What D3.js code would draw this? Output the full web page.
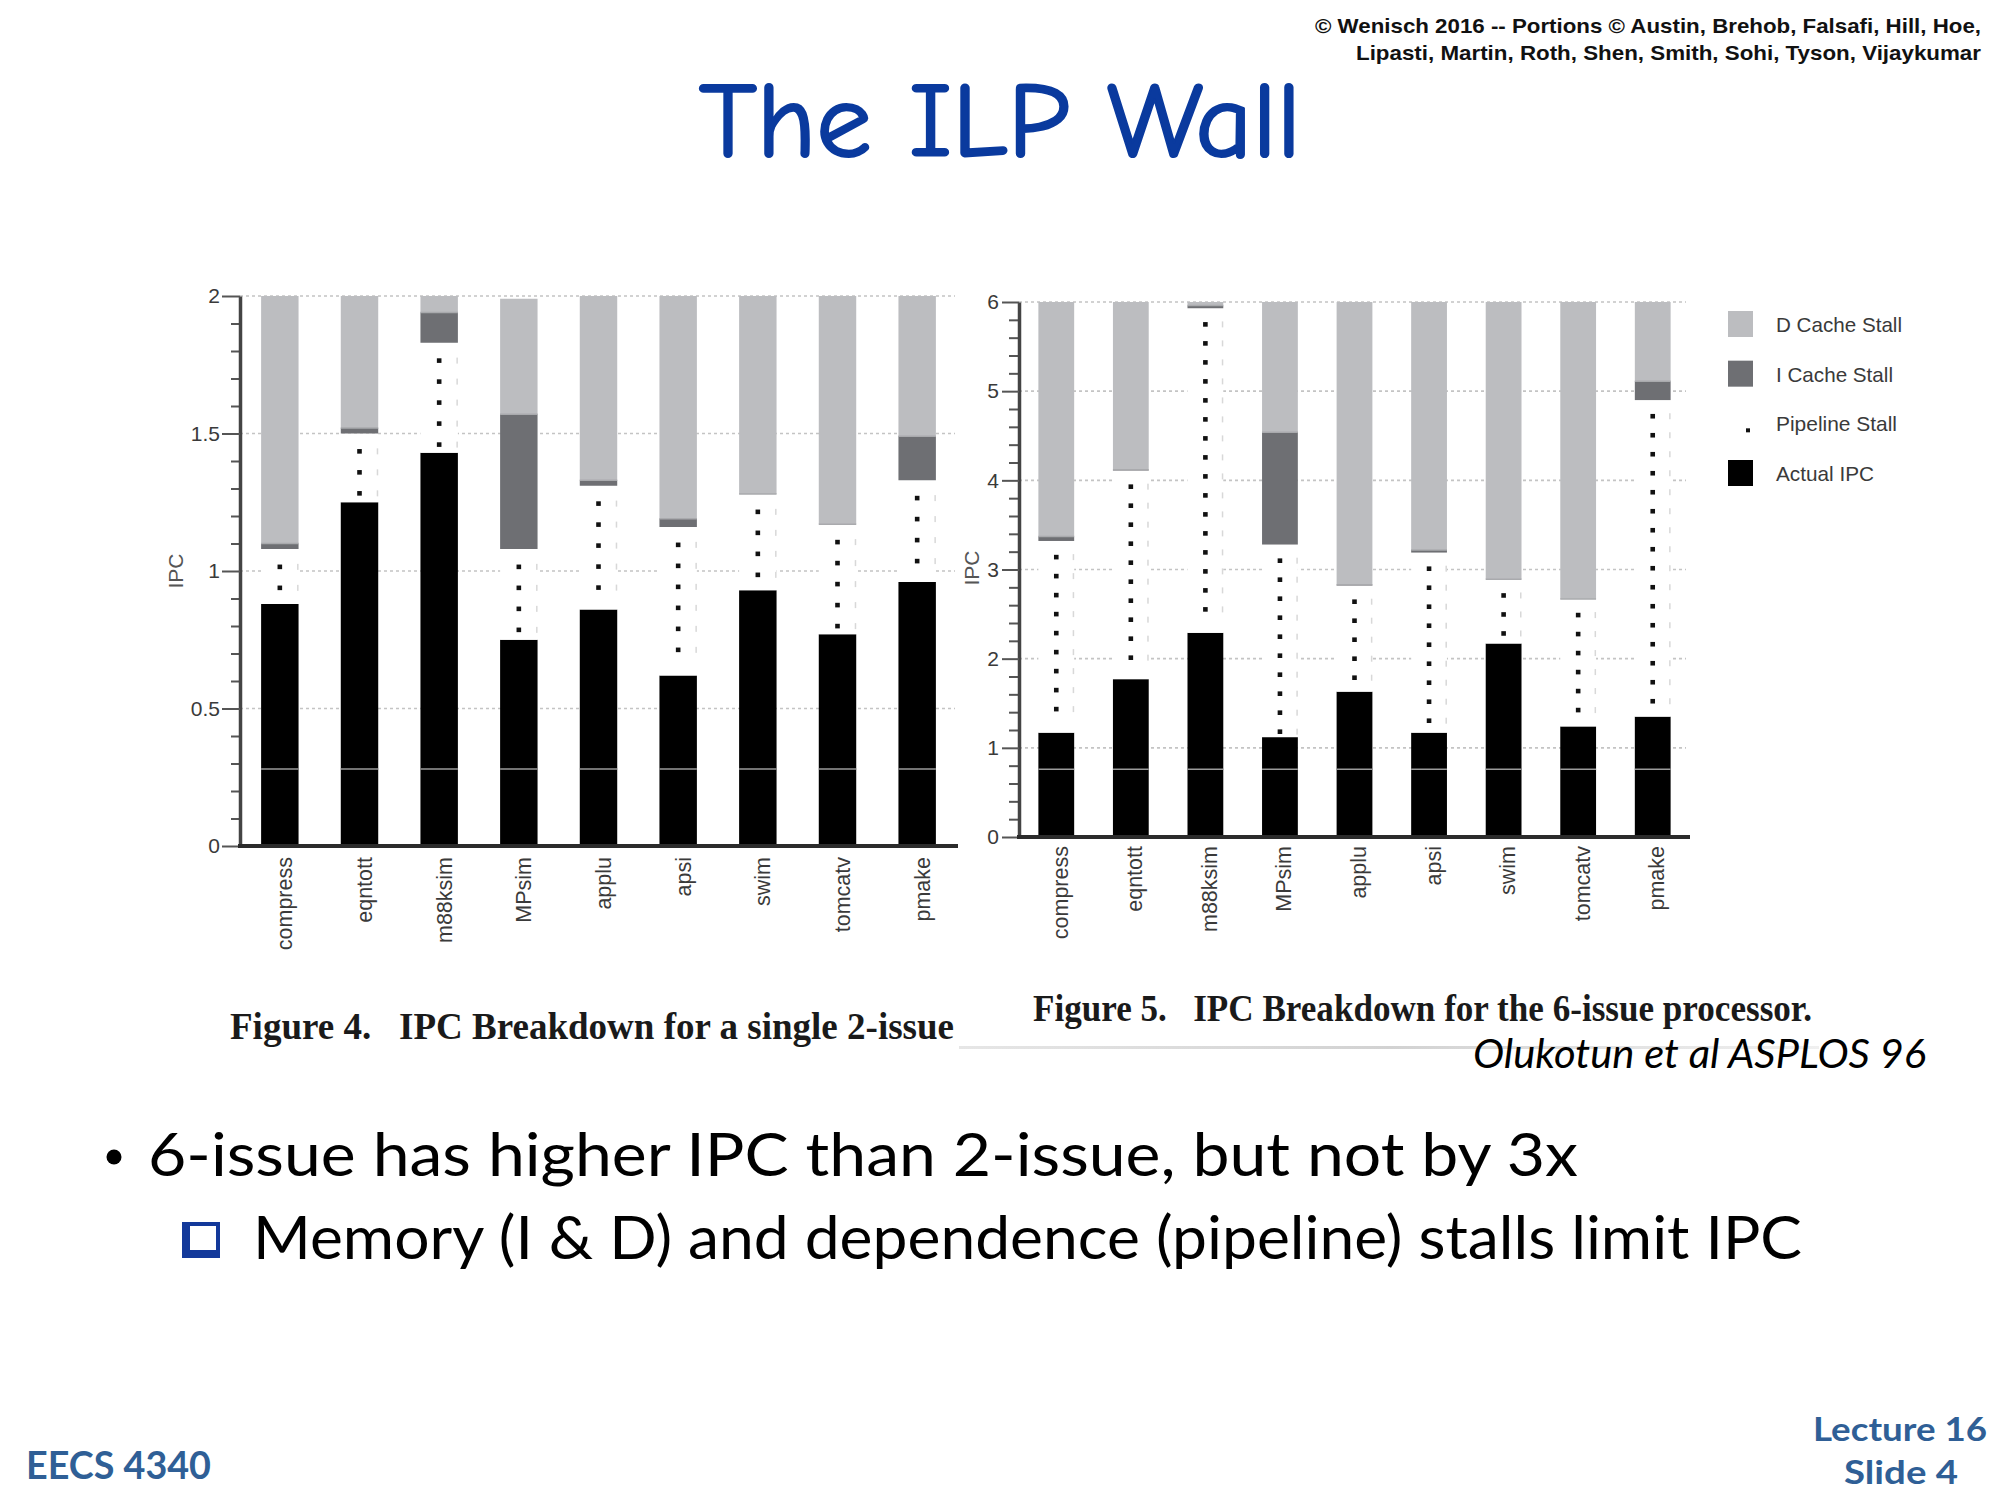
<!DOCTYPE html>
<html>
<head>
<meta charset="utf-8">
<script src="https://cdn.jsdelivr.net/npm/d3@7"></script>
<style>
  html, body { margin: 0; padding: 0; background: #fff; }
  svg { display: block; }
  text { white-space: pre; }
</style>
</head>
<body>
<svg id="slide" width="2000" height="1500"></svg>
<script>
// ---------------- DATA ----------------
const benchmarks = ["compress", "eqntott", "m88ksim", "MPsim", "applu", "apsi", "swim", "tomcatv", "pmake"];

// Figure 4: single 2-issue processor (stacked segments, IPC)
const actual2   = [0.88, 1.25, 1.43, 0.75, 0.86, 0.62, 0.93, 0.77, 0.96];
const pipeline2 = [0.20, 0.25, 0.40, 0.33, 0.45, 0.54, 0.35, 0.40, 0.37];
const icache2   = [0.02, 0.02, 0.11, 0.49, 0.02, 0.03, 0.00, 0.00, 0.16];
const dcache2   = [0.90, 0.48, 0.06, 0.42, 0.67, 0.81, 0.72, 0.83, 0.51];

// Figure 5: 6-issue processor
const actual6   = [1.17, 1.77, 2.29, 1.12, 1.63, 1.17, 2.17, 1.24, 1.35];
const pipeline6 = [2.15, 2.34, 3.64, 2.16, 1.19, 2.02, 0.72, 1.43, 3.55];
const icache6   = [0.05, 0.01, 0.03, 1.26, 0.01, 0.03, 0.00, 0.00, 0.21];
const dcache6   = [2.63, 1.88, 0.04, 1.46, 3.17, 2.78, 3.11, 3.33, 0.89];

const ticks2Major = [0, 0.5, 1, 1.5, 2];
const ticks6Major = [0, 1, 2, 3, 4, 5, 6];
const scanLine2 = 0.28;   // light scan line across black bars (scan artifact)
const scanLine6 = 0.76;

const seriesKeys   = ["actual", "pipeline", "icache", "dcache"];
const legendLabels = ["D Cache Stall", "I Cache Stall", "Pipeline Stall", "Actual IPC"];
const legendKeys   = ["dcache", "icache", "pipeline", "actual"];

const titleText = "The ILP Wall";
const copyright = ["© Wenisch 2016 -- Portions © Austin, Brehob, Falsafi, Hill, Hoe,",
                   "Lipasti, Martin, Roth, Shen, Smith, Sohi, Tyson, Vijaykumar"];
const caption4 = "Figure 4.   IPC Breakdown for a single 2-issue";
const caption5 = "Figure 5.   IPC Breakdown for the 6-issue processor.";
const citation = "Olukotun et al ASPLOS 96";
const bullet1 = "6-issue has higher IPC than 2-issue, but not by 3x";
const bullet2 = "Memory (I & D) and dependence (pipeline) stalls limit IPC";

// ---------------- STYLE ----------------
const colors = { actual: "#000000", pipeline: "#ffffff", icache: "#6e6f73", dcache: "#bcbdc0" };
const sans = "'Liberation Sans', Arial, sans-serif";
const slideFont = "Lato, 'Open Sans', sans-serif";

const svg = d3.select("#slide");

// ---------------- HEADER ----------------
svg.append("text").attr("x", 699).attr("y", 156)
  .attr("textLength", 602).attr("lengthAdjust", "spacingAndGlyphs")
  .style("font-family", "'Comic Sans MS', 'Comic Neue', Lato, sans-serif")
  .style("font-size", "106px").style("fill", "#0a3a9e")
  .style("stroke", "#0a3a9e").style("stroke-width", "2.2px").style("stroke-linejoin", "round")
  .text(titleText);

const cr = [{x: 1315, y: 33, w: 666}, {x: 1356, y: 60, w: 625}];
copyright.forEach((t, i) => {
  svg.append("text").attr("x", cr[i].x).attr("y", cr[i].y)
    .attr("textLength", cr[i].w).attr("lengthAdjust", "spacingAndGlyphs")
    .style("font-family", sans).style("font-weight", "bold")
    .style("font-size", "21px").style("fill", "#111").text(t);
});

// ---------------- CHART BUILDER ----------------
function drawChart(cfg) {
  const table = benchmarks.map((b, i) => ({
    name: b, actual: cfg.actual[i], pipeline: cfg.pipeline[i], icache: cfg.icache[i], dcache: cfg.dcache[i]
  }));
  const stacked = d3.stack().keys(seriesKeys)(table);

  const x = d3.scaleBand().domain(benchmarks).range(cfg.xRange)
    .paddingInner(cfg.padInner).paddingOuter(cfg.padInner / 2);
  const y = d3.scaleLinear().domain(cfg.yDomain).range(cfg.yRange);

  const g = svg.append("g");

  // dotted gridlines
  g.append("g").selectAll("line").data(cfg.majors.filter(d => d > 0)).join("line")
    .attr("x1", cfg.xRange[0]).attr("x2", cfg.gridEnd)
    .attr("y1", d => y(d)).attr("y2", d => y(d))
    .attr("stroke", "#c4c4c4").attr("stroke-width", 1.6).attr("stroke-dasharray", "3,3");

  // stacked bars
  g.append("g").selectAll("g").data(stacked).join("g")
    .attr("fill", d => colors[d.key])
    .selectAll("rect").data(d => d).join("rect")
    .attr("x", d => x(d.data.name))
    .attr("width", x.bandwidth())
    .attr("y", d => y(d[1]))
    .attr("height", d => Math.max(0, y(d[0]) - y(d[1])));

  // thin separating edge between dcache and the segment below
  g.append("g").selectAll("line").data(stacked[3]).join("line")
    .attr("x1", d => x(d.data.name)).attr("x2", d => x(d.data.name) + x.bandwidth())
    .attr("y1", d => y(d[0])).attr("y2", d => y(d[0]))
    .attr("stroke", "#a9aaad").attr("stroke-width", 1.5);

  // pipeline stall: column of dots
  const pipe = stacked[1];
  pipe.forEach(d => {
    const top = y(d[1]), bottom = y(d[0]);
    const cx = x(d.data.name) + x.bandwidth() / 2;
    const ys = d3.range(top + cfg.dotStep * 0.85, bottom - 5, cfg.dotStep);
    g.append("g").selectAll("rect").data(ys).join("rect")
      .attr("x", cx - 2.3).attr("y", v => v - 2.3).attr("width", 4.6).attr("height", 4.6)
      .attr("fill", "#111");
    g.append("g").selectAll("rect").data(ys).join("rect")
      .attr("x", x(d.data.name) + x.bandwidth() - 1.5).attr("y", v => v - 3)
      .attr("width", 1.5).attr("height", 6).attr("fill", "#d8d8d8");
  });

  // scan line across black bars
  g.append("g").selectAll("line").data(benchmarks).join("line")
    .attr("x1", d => x(d)).attr("x2", d => x(d) + x.bandwidth())
    .attr("y1", y(cfg.scan)).attr("y2", y(cfg.scan))
    .attr("stroke", "#9a9a9a").attr("stroke-width", 1.6);

  // y axis: minor ticks
  const minorAxis = d3.axisLeft(y).tickValues(cfg.minors).tickSize(cfg.minorLen).tickFormat("");
  const gm = g.append("g").attr("transform", `translate(${cfg.xRange[0]},0)`).call(minorAxis);
  gm.select(".domain").remove();
  gm.selectAll("line").attr("stroke", "#555").attr("stroke-width", 2);

  // y axis: major ticks with labels
  const majorAxis = d3.axisLeft(y).tickValues(cfg.majors).tickSize(cfg.majorLen)
    .tickPadding(cfg.labelPad).tickSizeOuter(0).tickFormat(d => String(d));
  const ga = g.append("g").attr("transform", `translate(${cfg.xRange[0]},0)`).call(majorAxis);
  ga.select(".domain").attr("stroke", "#444").attr("stroke-width", 3.5);
  ga.selectAll("line").attr("stroke", "#555").attr("stroke-width", 2);
  ga.selectAll("text").style("font-family", sans).style("font-size", "21px").style("fill", "#3a3a3a");

  // x axis baseline + rotated category labels
  const xAxis = d3.axisBottom(x).tickSize(0).tickSizeOuter(0).tickPadding(0);
  const gx = g.append("g").attr("transform", `translate(0,${y(0)})`).call(xAxis);
  gx.select(".domain").attr("stroke", "#2b2b2b").attr("stroke-width", 4)
    .attr("d", `M${cfg.xRange[0] - 2},0H${cfg.xEnd}`);
  gx.selectAll(".tick text")
    .attr("transform", `translate(${cfg.labelDx},${cfg.labelTop - y(0)}) rotate(-90)`)
    .attr("y", 0).attr("dy", "0.35em").attr("text-anchor", "end")
    .style("font-family", sans).style("font-size", "21.5px").style("fill", "#3a3a3a");

  // y title
  g.append("text").attr("transform", `translate(${cfg.yTitle[0]},${cfg.yTitle[1]}) rotate(-90)`)
    .attr("text-anchor", "middle")
    .style("font-family", sans).style("font-size", "21px").style("fill", "#555").text("IPC");

  return { x, y };
}

drawChart({
  actual: actual2, pipeline: pipeline2, icache: icache2, dcache: dcache2,
  xRange: [240, 957], xEnd: 958, gridEnd: 955, padInner: 0.53,
  yDomain: [0, 2], yRange: [846, 296],
  majors: ticks2Major, minors: d3.range(0, 21).map(i => i / 10).filter(v => !ticks2Major.includes(v)),
  majorLen: 18, minorLen: 9, labelPad: 2,
  dotStep: 21, scan: scanLine2, labelDx: 5, labelTop: 857, yTitle: [183, 571]
});

drawChart({
  actual: actual6, pipeline: pipeline6, icache: icache6, dcache: dcache6,
  xRange: [1019, 1690], xEnd: 1690, gridEnd: 1686, padInner: 0.52,
  yDomain: [0, 6], yRange: [837, 302],
  majors: ticks6Major, minors: d3.range(0, 31).map(i => i / 5).filter(v => !ticks6Major.includes(v)),
  majorLen: 17, minorLen: 10, labelPad: 3,
  dotStep: 19, scan: scanLine6, labelDx: 4, labelTop: 846, yTitle: [979, 568]
});

// ---------------- LEGEND ----------------
const legY = d3.scalePoint().domain(legendKeys).range([324, 473]);
const lg = svg.append("g");
legendKeys.forEach((k, i) => {
  const cy = legY(k);
  if (k === "pipeline") {
    lg.append("rect").attr("x", 1746).attr("y", cy + 5).attr("width", 4).attr("height", 4).attr("fill", "#111");
  } else {
    lg.append("rect").attr("x", 1728).attr("y", cy - 13).attr("width", 25).attr("height", 26)
      .attr("fill", colors[k]);
  }
  const widths = { dcache: 126, icache: 117, pipeline: 121, actual: 98 };
  lg.append("text").attr("x", 1776).attr("y", cy + 8)
    .attr("textLength", widths[k]).attr("lengthAdjust", "spacingAndGlyphs")
    .style("font-family", sans).style("font-size", "21px").style("fill", "#3a3a3a")
    .text(legendLabels[i]);
});

// ---------------- CAPTIONS ----------------
svg.append("text").attr("x", 230).attr("y", 1039)
  .attr("textLength", 724).attr("lengthAdjust", "spacingAndGlyphs")
  .style("font-family", "'Liberation Serif', 'Times New Roman', serif").style("font-weight", "bold")
  .style("font-size", "38px").style("fill", "#1a1a1a").text(caption4);
svg.append("text").attr("x", 1033).attr("y", 1021)
  .attr("textLength", 779).attr("lengthAdjust", "spacingAndGlyphs")
  .style("font-family", "'Liberation Serif', 'Times New Roman', serif").style("font-weight", "bold")
  .style("font-size", "37px").style("fill", "#1a1a1a").text(caption5);

const fade = svg.append("defs").append("linearGradient").attr("id", "fade");
fade.append("stop").attr("offset", "0%").attr("stop-color", "#e6e6e6");
fade.append("stop").attr("offset", "50%").attr("stop-color", "#d2d2d2");
fade.append("stop").attr("offset", "100%").attr("stop-color", "#f0f0f0");
svg.append("rect").attr("x", 959).attr("y", 1046).attr("width", 860).attr("height", 3).attr("fill", "url(#fade)");

svg.append("text").attr("x", 1473).attr("y", 1068)
  .attr("textLength", 453).attr("lengthAdjust", "spacingAndGlyphs")
  .style("font-family", slideFont).style("font-style", "italic")
  .style("font-size", "41px").style("fill", "#000").text(citation);

// ---------------- BULLETS ----------------
svg.append("circle").attr("cx", 114).attr("cy", 1157).attr("r", 7.5).attr("fill", "#000");
svg.append("text").attr("x", 148).attr("y", 1176)
  .attr("textLength", 1430).attr("lengthAdjust", "spacingAndGlyphs")
  .style("font-family", slideFont).style("font-size", "60px").style("fill", "#000").text(bullet1);

// hollow shadowed square sub-bullet
svg.append("rect").attr("x", 182).attr("y", 1222).attr("width", 38).attr("height", 36).attr("fill", "#13399a");
svg.append("rect").attr("x", 190).attr("y", 1226).attr("width", 26).attr("height", 24).attr("fill", "#fff");
svg.append("text").attr("x", 253).attr("y", 1259)
  .attr("textLength", 1549).attr("lengthAdjust", "spacingAndGlyphs")
  .style("font-family", slideFont).style("font-size", "60px").style("fill", "#000").text(bullet2);

// ---------------- FOOTER ----------------
const footColor = "#2f5f96";
svg.append("text").attr("x", 26).attr("y", 1479)
  .attr("textLength", 185).attr("lengthAdjust", "spacingAndGlyphs")
  .style("font-family", slideFont).style("font-weight", "bold")
  .style("font-size", "38px").style("fill", footColor).text("EECS 4340");
svg.append("text").attr("x", 1813).attr("y", 1441)
  .attr("textLength", 174).attr("lengthAdjust", "spacingAndGlyphs")
  .style("font-family", slideFont).style("font-weight", "bold")
  .style("font-size", "33px").style("fill", footColor).text("Lecture 16");
svg.append("text").attr("x", 1844).attr("y", 1484)
  .attr("textLength", 114).attr("lengthAdjust", "spacingAndGlyphs")
  .style("font-family", slideFont).style("font-weight", "bold")
  .style("font-size", "33px").style("fill", footColor).text("Slide 4");
</script>
</body>
</html>
